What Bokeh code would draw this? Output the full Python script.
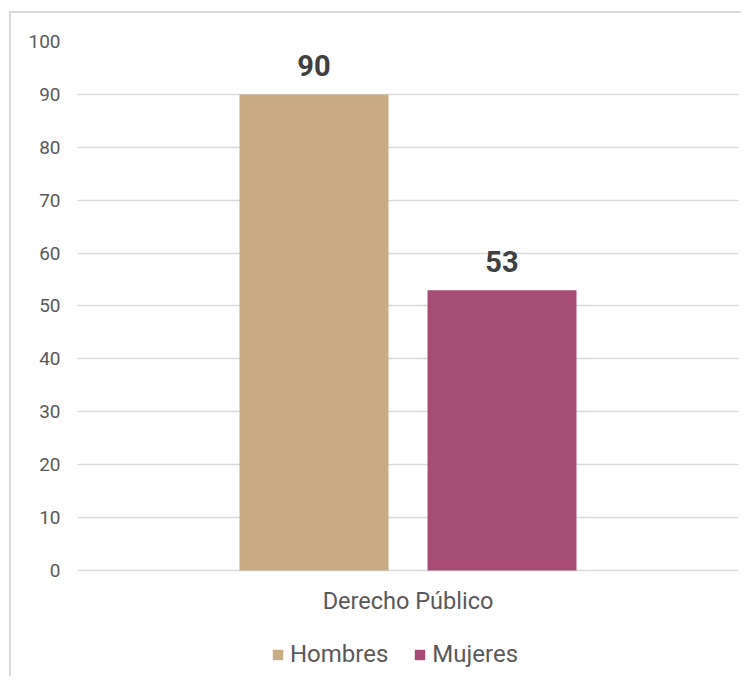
from bokeh.plotting import figure
from bokeh.models import (ColumnDataSource, FactorRange, Range1d, Legend, LegendItem,
                          FixedTicker)
from bokeh.transform import dodge
from bokeh.core.properties import value
from bokeh.embed import file_html
from bokeh.resources import INLINE

categories = ["Derecho Público"]
hombres = [90]
mujeres = [53]
y_ticks = [0, 10, 20, 30, 40, 50, 60, 70, 80, 90, 100]
series_names = ["Hombres", "Mujeres"]
colors = ["#C9AB84", "#A64C77"]

src = ColumnDataSource(dict(cat=categories, h=hombres, m=mujeres, zero=[0] * len(categories),
                            hl=[str(v) for v in hombres], ml=[str(v) for v in mujeres]))

FONT = "Roboto"
TXT = "#595959"

# frame extends below the 0 line to hold the category label and the legend
p = figure(frame_width=661, frame_height=635, x_range=FactorRange(*categories),
           y_range=Range1d(-20.04, 100),
           output_backend="svg", toolbar_location=None,
           min_border_left=66, min_border_right=3, min_border_top=28, min_border_bottom=0)
p.styles = {"border-left": "2px solid #d9d9d9", "border-top": "2px solid #d9d9d9",
            "margin-left": "9px", "margin-top": "11px"}
p.outline_line_color = None
p.xgrid.grid_line_color = None
p.ygrid.grid_line_color = "#d9d9d9"
p.ygrid.grid_line_width = 1.5
p.xaxis.visible = False

bw = 0.2254
off = 0.1422
rh = p.vbar(x=dodge("cat", -off, range=p.x_range), top="h", width=bw, source=src,
            fill_color=colors[0], line_color=None)
rm = p.vbar(x=dodge("cat", off, range=p.x_range), top="m", width=bw, source=src,
            fill_color=colors[1], line_color=None)

for fld, lab, o in (("h", "hl", -off), ("m", "ml", off)):
    p.text(x=dodge("cat", o, range=p.x_range), y=fld, text=lab, source=src,
           text_font=value(FONT), text_font_size="29px", text_font_style="bold",
           text_color="#404040", text_align="center", text_baseline="bottom", y_offset=-18)

# category label under the 0 line
p.text(x="cat", y="zero", text="cat", source=src, text_font=value(FONT),
       text_font_size="23.5px", text_color=TXT, text_align="center",
       text_baseline="middle", y_offset=31)

p.yaxis.ticker = FixedTicker(ticks=y_ticks)
ax = p.yaxis[0]
ax.axis_line_color = None
ax.major_tick_line_color = None
ax.minor_tick_line_color = None
ax.major_tick_out = 0
ax.major_label_text_font = FONT
ax.major_label_text_color = TXT
ax.major_label_text_font_size = "19px"
ax.major_label_standoff = 17

legend = Legend(items=[LegendItem(label=series_names[0], renderers=[rh]),
                       LegendItem(label=series_names[1], renderers=[rm])],
                orientation="horizontal", location=(194, 8),
                label_text_font=FONT, label_text_font_size="24px", label_text_color=TXT,
                glyph_width=13, glyph_height=13, label_standoff=6, spacing=25,
                padding=0, margin=0, border_line_color=None, background_fill_alpha=0)
p.add_layout(legend, "center")

open("out.html", "w").write(file_html(p, INLINE))
